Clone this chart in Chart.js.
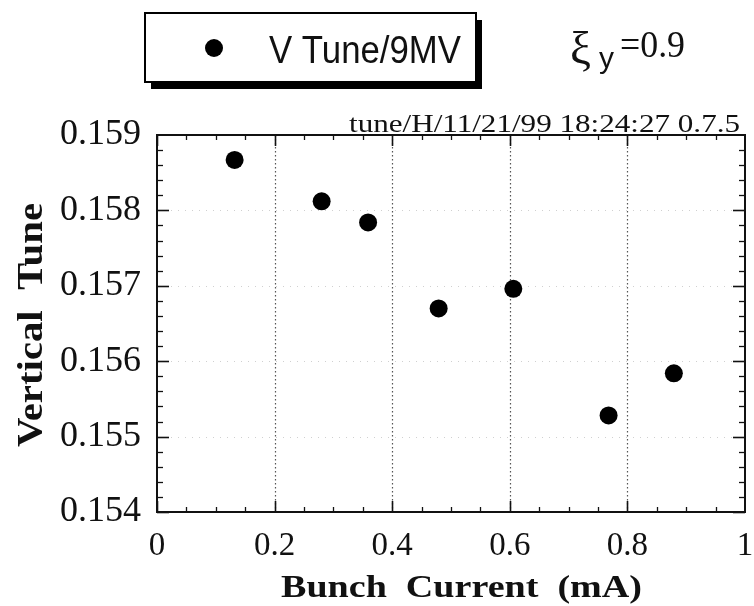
<!DOCTYPE html>
<html><head><meta charset="utf-8">
<script src="https://cdn.jsdelivr.net/npm/chart.js@4"></script>
<style>html,body{margin:0;padding:0;background:#fff}#wrap{width:754px;height:606px;position:relative}</style>
</head><body><div id="wrap"><canvas id="c"></canvas></div>
<script>
// ---- data ----
const bunchCurrent = [0.132, 0.280, 0.359, 0.479, 0.606, 0.768, 0.879];
const verticalTune = [0.15867, 0.15812, 0.15784, 0.15670, 0.15696, 0.15528, 0.15584];
const xTickValues = [0, 0.2, 0.4, 0.6, 0.8, 1];
const xTickLabels = ['0', '0.2', '0.4', '0.6', '0.8', '1'];
const yTickValues = [0.154, 0.155, 0.156, 0.157, 0.158, 0.159];
const yTickLabels = ['0.154', '0.155', '0.156', '0.157', '0.158', '0.159'];
const seriesLabel = 'V Tune/9MV';
const stampText = 'tune/H/11/21/99 18:24:27 0.7.5';
const xTitle = 'Bunch  Current  (mA)';
const yTitle = 'Vertical  Tune';

const SERIF = "'Liberation Serif','Times New Roman',serif";
const SANS = "'Liberation Sans',Arial,sans-serif";
const INK = '#111';

function line(ctx, x1, y1, x2, y2) { ctx.beginPath(); ctx.moveTo(x1, y1); ctx.lineTo(x2, y2); ctx.stroke(); }
// draw text so that it spans exactly `width` pixels along its direction
function fitText(ctx, text, x, y, width) {
  const w = ctx.measureText(text).width;
  ctx.save();
  ctx.translate(x, y);
  ctx.scale(width / w, 1);
  ctx.fillText(text, 0, 0);
  ctx.restore();
}

const framePlugin = {
  id: 'frame',
  beforeDatasetsDraw(chart) {
    const { ctx, chartArea: a, scales: { x, y } } = chart;
    ctx.save();
    // vertical dotted grid
    ctx.lineWidth = 1.2;
    ctx.strokeStyle = '#555';
    ctx.setLineDash([1.5, 2.5]);
    xTickValues.slice(1, -1).forEach(v => {
      const px = Math.round(x.getPixelForValue(v)) + 0.5;
      line(ctx, px, a.top, px, a.bottom);
    });
    // faint horizontal grid
    ctx.strokeStyle = '#d0d0d0';
    ctx.lineWidth = 1;
    ctx.setLineDash([1, 6]);
    yTickValues.slice(1, -1).forEach(v => {
      const py = Math.round(y.getPixelForValue(v)) + 0.5;
      line(ctx, a.left, py, a.right, py);
    });
    ctx.setLineDash([]);
    ctx.strokeStyle = INK;
    // x ticks (bottom and top), minor every quarter of a major step
    for (let i = 0; i < xTickValues.length - 1; i++) {
      const v0 = xTickValues[i], v1 = xTickValues[i + 1];
      for (let k = 0; k < 4; k++) {
        const v = v0 + (v1 - v0) * k / 4;
        const px = Math.round(x.getPixelForValue(v)) + 0.5;
        const len = k === 0 ? 11 : 5;
        ctx.lineWidth = k === 0 ? 1.6 : 1.3;
        line(ctx, px, a.bottom, px, a.bottom - len);
        line(ctx, px, a.top, px, a.top + len);
      }
    }
    // y ticks (left and right), minor every fifth of a major step
    for (let i = 0; i < yTickValues.length - 1; i++) {
      const v0 = yTickValues[i], v1 = yTickValues[i + 1];
      for (let k = 0; k < 5; k++) {
        const v = v0 + (v1 - v0) * k / 5;
        const py = Math.round(y.getPixelForValue(v)) + 0.5;
        const len = k === 0 ? 12 : 6;
        ctx.lineWidth = k === 0 ? 1.6 : 1.3;
        line(ctx, a.left, py, a.left + len, py);
        line(ctx, a.right, py, a.right - len, py);
      }
    }
    // frame
    ctx.lineWidth = 2;
    ctx.strokeRect(a.left, a.top, a.right - a.left, a.bottom - a.top);
    ctx.restore();
  },
  afterDraw(chart) {
    const { ctx, chartArea: a } = chart;
    const ds = chart.data.datasets[0];
    ctx.save();
    ctx.textBaseline = 'alphabetic';
    ctx.textAlign = 'left';
    // legend box with drop shadow
    const bx = 145, by = 13, bw = 331, bh = 69;
    ctx.fillStyle = '#000';
    ctx.fillRect(bx + 6, by + 7, bw, bh);
    ctx.fillStyle = '#fff';
    ctx.fillRect(bx, by, bw, bh);
    ctx.lineWidth = 2;
    ctx.strokeStyle = '#000';
    ctx.strokeRect(bx, by, bw, bh);
    ctx.fillStyle = ds.pointBackgroundColor;
    ctx.beginPath(); ctx.arc(214, 48, ds.pointRadius, 0, Math.PI * 2); ctx.fill();
    ctx.fillStyle = INK;
    ctx.font = `38px ${SANS}`;
    fitText(ctx, ds.label, 269, 63, 192);
    // xi_y = 0.9
    ctx.font = `47px ${SERIF}`;
    ctx.fillText('ξ', 570, 64);
    ctx.font = `30px ${SANS}`;
    ctx.fillText('y', 599, 68);
    ctx.font = `37px ${SERIF}`;
    fitText(ctx, '=0.9', 620, 57, 65);
    // stamp
    ctx.font = `25px ${SERIF}`;
    fitText(ctx, stampText, 349, 132, 391);
    // x axis title
    ctx.font = `bold 31px ${SERIF}`;
    fitText(ctx, xTitle, 281, 597, 361);
    // y axis title (rotated)
    ctx.save();
    ctx.translate(42, 447);
    ctx.rotate(-Math.PI / 2);
    ctx.font = `bold 36px ${SERIF}`;
    fitText(ctx, yTitle, 0, 0, 244);
    ctx.restore();
    ctx.restore();
  }
};

new Chart(document.getElementById('c'), {
  type: 'scatter',
  data: {
    datasets: [{
      label: seriesLabel,
      data: bunchCurrent.map((v, i) => ({ x: v, y: verticalTune[i] })),
      pointRadius: 9,
      pointBackgroundColor: '#000',
      pointBorderColor: '#000',
      pointBorderWidth: 0
    }]
  },
  options: {
    responsive: true,
    maintainAspectRatio: false,
    animation: false,
    layout: { padding: { top: 135, right: 2, left: 0, bottom: 0 } },
    plugins: { legend: { display: false }, tooltip: { enabled: false } },
    scales: {
      x: {
        type: 'linear', min: 0, max: 1,
        afterBuildTicks: s => { s.ticks = xTickValues.map(v => ({ value: v })); },
        afterFit: s => { s.height = 94; s.paddingLeft = 0; s.paddingRight = 0; },
        grid: { display: false, drawTicks: false },
        border: { display: false },
        ticks: {
          padding: 15, color: INK, maxRotation: 0, autoSkip: false,
          font: { family: SERIF, size: 33 },
          callback: (v, i) => xTickLabels[i]
        },
        title: { display: false }
      },
      y: {
        type: 'linear', min: 0.154, max: 0.159,
        afterBuildTicks: s => { s.ticks = yTickValues.map(v => ({ value: v })); },
        afterFit: s => { s.width = 157; s.paddingTop = 0; s.paddingBottom = 0; },
        grid: { display: false, drawTicks: false },
        border: { display: false },
        ticks: {
          padding: 16, color: INK, autoSkip: false,
          font: { family: SERIF, size: 36 },
          callback: (v, i) => yTickLabels[i]
        },
        title: { display: false }
      }
    }
  },
  plugins: [framePlugin]
});
</script>
</body></html>
